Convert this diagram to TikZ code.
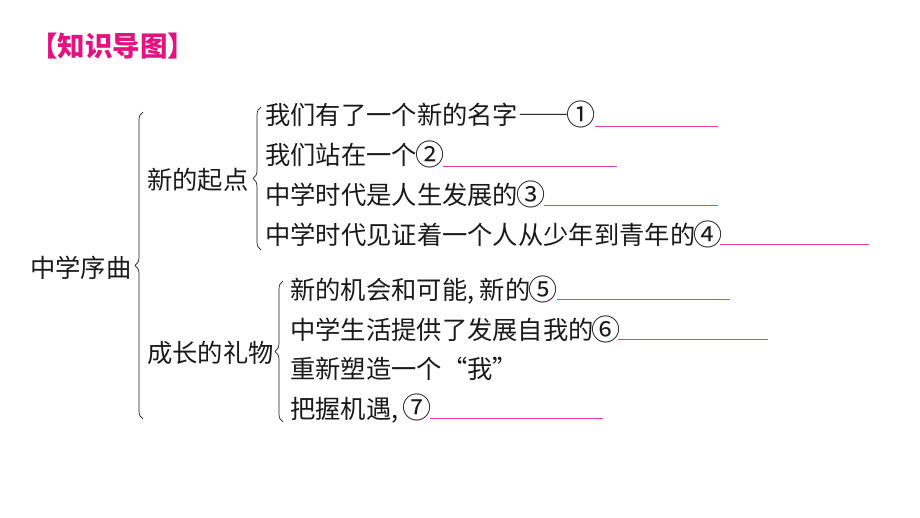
\documentclass[tikz,border=0pt]{standalone}
\usepackage{fontspec}
\setmainfont{Noto Sans CJK SC}
\usetikzlibrary{decorations.pathreplacing}
\definecolor{titlemag}{HTML}{E3127F}
\definecolor{blankmag}{HTML}{E8409E}
\definecolor{ink}{HTML}{1A1A1A}
\newcommand{\fw}[1]{{\addfontfeatures{CharacterWidth=Full}#1}}
\newcommand{\cd}[1]{\makebox[1em]{\raisebox{-0.03em}{\scalebox{1.15}{#1}}}}
\newcommand{\cm}{,\kern0.22em}
\begin{document}
\begin{tikzpicture}[x=1pt,y=-1pt,
  item/.style={anchor=base west, inner sep=0pt, font=\fontsize{25.3}{30}\selectfont, text=ink},
  titlestyle/.style={anchor=base west, inner sep=0pt, font=\fontsize{27.5}{30}\selectfont\bfseries, text=titlemag},
  blank/.style={draw=blankmag, line width=0.7pt},
  bracestyle/.style={draw=ink, line width=0.7pt, decorate, decoration={brace, amplitude=8pt, aspect=0.5}}]
\useasboundingbox (0,0) rectangle (920,518);
% title
\node[titlestyle] (title) at (30,56.5) {\fw{【知识导图】}};
% root and groups
\node[item] (root) at (30,277.5) {中学序曲};
\node[item] (g1) at (147,189.5) {新的起点};
\node[item] (g2) at (147,362.5) {成长的礼物};
% group 1 items
\node[item] (a1) at (265,124.5) {我们有了一个新的名字\fw{——}\cd{①}};
\node[item] (a2) at (265,164.5) {我们站在一个\cd{②}};
\node[item] (a3) at (265,204.5) {中学时代是人生发展的\cd{③}};
\node[item] (a4) at (265,245) {中学时代见证着一个人从少年到青年的\cd{④}};
% group 2 items
\node[item] (b1) at (290,299.5) {新的机会和可能\cm 新的\cd{⑤}};
\node[item] (b2) at (290,339.5) {中学生活提供了发展自我的\cd{⑥}};
\node[item] (b3) at (290,378) {重新塑造一个“我”};
\node[item] (b4) at (290,418) {把握机遇\cm\cd{⑦}};
% blanks
\draw[blank] (595,126) -- (718,126);
\draw[blank] (443,166) -- (617,166);
\draw[blank] (544,205) -- (718,205);
\draw[blank] (720,244) -- (869,244);
\draw[blank] (557,299) -- (730,299);
\draw[blank] (618,339) -- (768,339);
\draw[blank] (430,418) -- (603,418);
% braces
\coordinate (r0b) at (143,419);
\coordinate (r0t) at (143,112);
\coordinate (r1b) at (261,250);
\coordinate (r1t) at (261,107);
\coordinate (r2b) at (283,422);
\coordinate (r2t) at (283,281);
\draw[bracestyle] (r0b) -- (r0t);
\draw[bracestyle] (r1b) -- (r1t);
\draw[bracestyle] (r2b) -- (r2t);
\end{tikzpicture}
\end{document}
